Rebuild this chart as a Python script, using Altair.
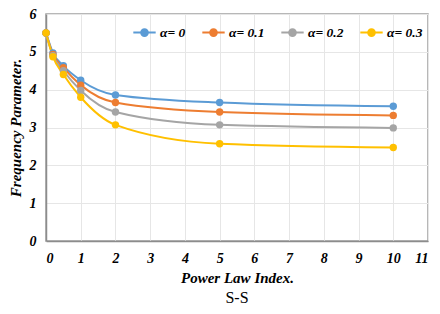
import altair as alt
import pandas as pd

x_vals = [0, 0.2, 0.5, 1, 2, 5, 10]
series_names = ["α= 0", "α= 0.1", "α= 0.2", "α= 0.3"]
alpha0 = [5.5, 4.97, 4.63, 4.25, 3.86, 3.66, 3.56]
alpha01 = [5.5, 4.93, 4.58, 4.12, 3.66, 3.41, 3.32]
alpha02 = [5.5, 4.9, 4.5, 3.98, 3.41, 3.07, 2.99]
alpha03 = [5.5, 4.87, 4.4, 3.8, 3.07, 2.57, 2.47]
colors = ["#5B9BD5", "#ED7D31", "#A5A5A5", "#FFC000"]
x_ticks = list(range(0, 12))
y_ticks = list(range(0, 7))

rows = []
for name, vals in zip(series_names, [alpha0, alpha01, alpha02, alpha03]):
    for x, y in zip(x_vals, vals):
        rows.append({"x": x, "y": y, "series": name})
df = pd.DataFrame(rows)

font = "'Liberation Serif', 'DejaVu Serif', serif"

x_enc = alt.X("x:Q", scale=alt.Scale(domain=[0, 11], nice=False),
              axis=alt.Axis(values=x_ticks, title="Power Law Index.", format="d"))
y_enc = alt.Y("y:Q", scale=alt.Scale(domain=[0, 6], nice=False),
              axis=alt.Axis(values=y_ticks, title="Frequency Parameter.", format="d"))
color_enc = alt.Color(
    "series:N",
    scale=alt.Scale(domain=series_names, range=colors),
    legend=alt.Legend(
        orient="none", direction="horizontal", legendX=86, legendY=6,
        title=None,
        symbolType="M-1,0L1,0M-0.3,0A0.3,0.3 0 1,0 0.3,0A0.3,0.3 0 1,0 -0.3,0",
        symbolSize=500, symbolStrokeWidth=2,
        labelFont=font, labelFontSize=13.5, labelFontWeight="bold", labelFontStyle="italic",
        labelColor="#000000", columnPadding=12, labelOffset=3,
    ),
)

base = alt.Chart(df)
lines = base.mark_line(interpolate="monotone", strokeWidth=2).encode(x=x_enc, y=y_enc, color=color_enc)
points = base.mark_circle(size=55, opacity=1).encode(x=x_enc, y=y_enc, color=color_enc)

chart = alt.layer(lines, points).properties(
    width=382, height=227,
    autosize="none",
    padding={"left": 38, "top": 6, "right": 4, "bottom": 75},
    title=alt.TitleParams("S-S", orient="bottom", anchor="middle", font=font,
                          fontSize=16, fontWeight="normal", color="#000000", offset=5),
).configure_view(stroke="#A0A0A0", strokeWidth=1.5).configure_axis(
    labelFont=font, labelFontSize=14, labelFontWeight="bold", labelFontStyle="italic",
    labelColor="#000000", titleFont=font, titleFontSize=15, titleFontWeight="bold",
    titleFontStyle="italic", titleColor="#000000", gridColor="#E6E6E6", gridWidth=1,
    domainColor="#8C8C8C", domainWidth=1.5, ticks=False, labelPadding=10,
).configure_axisX(titlePadding=5).configure_axisY(titlePadding=6)

chart.save("out.html", embed_options={"renderer": "svg", "actions": False})
